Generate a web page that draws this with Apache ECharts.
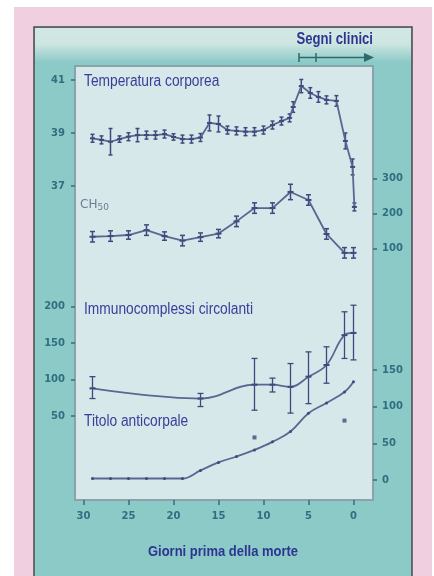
<!DOCTYPE html>
<html><head><meta charset="utf-8">
<script src="https://cdn.jsdelivr.net/npm/echarts@6/dist/echarts.min.js"></script>
<style>html,body{margin:0;padding:0;background:#fff;}#c{width:434px;height:576px;}</style>
</head><body><div id="c"></div>
<script>
// ---- tick labels ----
const xTicks = [30, 25, 20, 15, 10, 5, 0];
const tempTicks = [37, 39, 41];
const immTicks = [50, 100, 150, 200];
const ch50Ticks = [100, 200, 300];
const titTicks = [0, 50, 100, 150];

// ---- Temperatura corporea (°C) ----
const tempDays = [29, 28, 27, 26, 25, 24, 23, 22, 21, 20, 19, 18, 17, 16, 15, 14, 13, 12, 11, 10, 9, 8, 7.1, 6.7, 5.8, 4.8, 3.9, 3, 1.9, 0.9, 0.1, -0.1];
const tempVals = [38.80, 38.74, 38.67, 38.77, 38.86, 38.92, 38.92, 38.92, 38.96, 38.85, 38.77, 38.77, 38.83, 39.38, 39.34, 39.11, 39.08, 39.05, 39.05, 39.11, 39.30, 39.45, 39.57, 39.98, 40.77, 40.51, 40.36, 40.25, 40.21, 38.70, 37.72, 36.21];
const tempErr  = [0.15, 0.15, 0.5, 0.12, 0.15, 0.25, 0.15, 0.15, 0.15, 0.12, 0.15, 0.15, 0.15, 0.3, 0.3, 0.15, 0.15, 0.15, 0.15, 0.15, 0.15, 0.15, 0.15, 0.2, 0.25, 0.2, 0.2, 0.15, 0.2, 0.3, 0.3, 0.15];

// ---- CH50 ----
const ch50Days = [29, 27, 25, 23, 21, 19, 17, 15, 13, 11, 9, 7, 5, 3, 1, 0];
const ch50Vals = [133, 135, 138, 152, 135, 122, 132, 142, 177, 215, 215, 261, 238, 141, 87, 87];
const ch50Err  = [15, 15, 12, 15, 12, 15, 12, 12, 15, 15, 15, 22, 15, 15, 15, 15];

// ---- Immunocomplessi circolanti ----
const immDays = [29, 17, 11, 9, 7, 5, 3, 1, 0];
const immVals = [88, 74, 93, 93, 90, 104, 120, 161, 164];
const immLow  = [74, 63, 58, 83, 54, 67, 95, 129, 127];
const immHigh = [104, 81, 129, 102, 122, 138, 145, 193, 202];

// ---- Titolo anticorpale ----
const titDays = [29, 27, 25, 23, 21, 19, 17, 15, 13, 11, 9, 7, 5, 3, 1, 0];
const titVals = [2, 2, 2, 2, 2, 2, 13, 24, 32, 41, 52, 66, 91, 105, 120, 134];
const starDays = [11, 1];
const starVals = [58, 81];

const LINE = '#5a6792';
const DOT = '#3e4a7c';
const TICKC = '#2f6f80';
const labelFont = {fontSize: 10, fontWeight: 'bold', color: TICKC, fontFamily: 'DejaVu Sans'};

function yAx(pos, min, max, ticks, margin) {
  return {
    type: 'value', position: pos, min: min, max: max, offset: 0,
    splitLine: {show: false},
    axisLine: {show: false, onZero: false},
    axisTick: {show: true, length: 4, customValues: ticks, lineStyle: {color: TICKC, width: 1.5}},
    axisLabel: Object.assign({customValues: ticks, margin: margin}, labelFont)
  };
}

function errSeries(yIdx, days, low, high, capW, lw) {
  return {
    type: 'custom', xAxisIndex: 0, yAxisIndex: yIdx, silent: true, clip: false, z: 3,
    data: days.map((d, i) => [d, low[i], high[i]]),
    encode: {x: 0, y: [1, 2]},
    renderItem: function (params, api) {
      const x = api.value(0);
      const p1 = api.coord([x, api.value(1)]);
      const p2 = api.coord([x, api.value(2)]);
      const st = {stroke: DOT, lineWidth: lw};
      return {type: 'group', children: [
        {type: 'line', shape: {x1: p1[0], y1: p1[1], x2: p2[0], y2: p2[1]}, style: st},
        {type: 'line', shape: {x1: p1[0] - capW, y1: p1[1], x2: p1[0] + capW, y2: p1[1]}, style: st},
        {type: 'line', shape: {x1: p2[0] - capW, y1: p2[1], x2: p2[0] + capW, y2: p2[1]}, style: st}
      ]};
    }
  };
}

const chart = echarts.init(document.getElementById('c'), null, {renderer: 'canvas'});
const FONT = '"Liberation Sans", Arial, sans-serif';

chart.setOption({
  backgroundColor: '#ffffff',
  animation: false,
  graphic: [
    {type: 'rect', z: -10, shape: {x: 14, y: 7, width: 418, height: 569}, style: {fill: '#f0cfe0'}},
    {type: 'rect', z: -9, shape: {x: 34, y: 27, width: 378, height: 560},
      style: {fill: '#8ccac7', stroke: '#4a4a4a', lineWidth: 1.5}},
    {type: 'rect', z: -8, shape: {x: 35, y: 28, width: 376, height: 40},
      style: {fill: new echarts.graphic.LinearGradient(0, 0, 0, 1, [
        {offset: 0, color: '#d3e8e4'}, {offset: 0.4, color: '#cde5e1'}, {offset: 0.85, color: '#8ccac7'}, {offset: 1, color: '#8ccac7'}])}},
    {type: 'text', z: 100, x: 84, y: 82, scaleX: 0.86, style: {text: 'Temperatura corporea', fill: '#3a3d99', font: '16px ' + FONT, textVerticalAlign: 'middle'}},
    {type: 'text', z: 100, x: 84, y: 310, scaleX: 0.86, style: {text: 'Immunocomplessi circolanti', fill: '#3a3d99', font: '16px ' + FONT, textVerticalAlign: 'middle'}},
    {type: 'text', z: 100, x: 84, y: 422, scaleX: 0.86, style: {text: 'Titolo anticorpale', fill: '#3a3d99', font: '16px ' + FONT, textVerticalAlign: 'middle'}},
    {type: 'text', z: 100, x: 373, y: 40, scaleX: 0.82, style: {text: 'Segni clinici', fill: '#2d3590', font: 'bold 16px ' + FONT, textAlign: 'right', textVerticalAlign: 'middle'}},
    {type: 'text', z: 100, x: 223, y: 552, scaleX: 0.866, style: {text: 'Giorni prima della morte', fill: '#2d3590', font: 'bold 15px ' + FONT, textAlign: 'center', textVerticalAlign: 'middle'}},
    {type: 'text', z: 100, x: 80, y: 205, style: {
      text: '{a|CH}{b|50}', textVerticalAlign: 'middle',
      rich: {a: {fontSize: 12, fill: '#6d7d92', fontFamily: 'DejaVu Sans'}, b: {fontSize: 9, fill: '#6d7d92', fontFamily: 'DejaVu Sans', padding: [6, 0, 0, 0]}}}},
    // Segni clinici arrow
    {type: 'line', z: 100, shape: {x1: 299, y1: 57.5, x2: 366, y2: 57.5}, style: {stroke: '#2c6a6e', lineWidth: 1.5}},
    {type: 'line', z: 100, shape: {x1: 299, y1: 53, x2: 299, y2: 62}, style: {stroke: '#2c6a6e', lineWidth: 1.5}},
    {type: 'line', z: 100, shape: {x1: 316, y1: 53, x2: 316, y2: 62}, style: {stroke: '#2c6a6e', lineWidth: 1.5}},
    {type: 'polygon', z: 100, shape: {points: [[364, 53], [374, 57.5], [364, 62]]}, style: {fill: '#2c6a6e'}}
  ],
  grid: {left: 75, right: 61, top: 66, bottom: 76, show: true,
    backgroundColor: '#d6e8ea', borderColor: '#8aa2aa', borderWidth: 2},
  xAxis: {
    type: 'value', min: -2.1667, max: 30.944, inverse: true,
    splitLine: {show: false}, axisLine: {show: false, onZero: false},
    axisTick: {show: true, length: 5, customValues: xTicks, lineStyle: {color: TICKC, width: 1.5}},
    axisLabel: Object.assign({customValues: xTicks, margin: 11}, labelFont)
  },
  yAxis: [
    yAx('left', 25.151, 41.528, tempTicks, 10),
    yAx('left', -65.2, 530.2, immTicks, 10),
    yAx('right', -619.1, 620.9, ch50Ticks, 9),
    yAx('right', -27.3, 564.5, titTicks, 9)
  ],
  series: [
    {type: 'line', yAxisIndex: 0, data: tempDays.map((d, i) => [d, tempVals[i]]),
      symbol: 'rect', symbolSize: [5, 2], itemStyle: {color: DOT},
      lineStyle: {color: LINE, width: 1.8}, z: 4, clip: false},
    errSeries(0, tempDays, tempVals.map((v, i) => v - tempErr[i]), tempVals.map((v, i) => v + tempErr[i]), 2, 1.5),
    {type: 'line', yAxisIndex: 2, data: ch50Days.map((d, i) => [d, ch50Vals[i]]),
      symbol: 'rect', symbolSize: [6, 2], itemStyle: {color: DOT},
      lineStyle: {color: LINE, width: 1.8}, z: 4},
    errSeries(2, ch50Days, ch50Vals.map((v, i) => v - ch50Err[i]), ch50Vals.map((v, i) => v + ch50Err[i]), 2.5, 1.5),
    {type: 'line', yAxisIndex: 1, data: immDays.map((d, i) => [d, immVals[i]]),
      smooth: 0.4, symbol: 'rect', symbolSize: [6, 2], itemStyle: {color: DOT},
      lineStyle: {color: LINE, width: 1.8}, z: 4},
    errSeries(1, immDays, immLow, immHigh, 3, 1.3),
    {type: 'line', yAxisIndex: 3, data: titDays.map((d, i) => [d, titVals[i]]),
      smooth: 0.4, symbol: 'circle', symbolSize: 3, itemStyle: {color: DOT},
      lineStyle: {color: LINE, width: 1.8}, z: 4},
    {type: 'scatter', yAxisIndex: 3, data: starDays.map((d, i) => [d, starVals[i]]),
      symbol: 'rect', symbolSize: 4, itemStyle: {color: DOT}, z: 4}
  ]
});
</script></body></html>
